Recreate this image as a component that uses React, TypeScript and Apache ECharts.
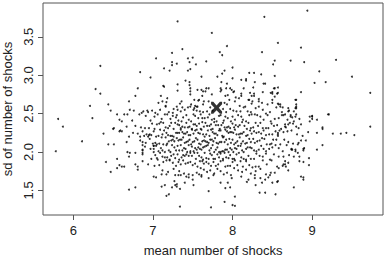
import React, { useEffect, useRef } from "react";
import * as echarts from "echarts";

const xTicks = [6, 7, 8, 9];
const yTicks = [1.5, 2.0, 2.5, 3.0, 3.5];
const xTitle = "mean number of shocks";
const yTitle = "sd of number of shocks";

const highlighted: number[][] = [[7.8, 2.575]];

const upperPoints: number[][] = [
[7.04,3.22],[6.34,3.12],[6.84,3.04],[6.97,2.97],[6.28,2.82],[6.81,2.83],[6.34,2.76],[6.78,2.73],[6.70,2.66],[6.21,2.60],[6.44,2.62],[7.07,2.64],
[7.31,3.70],[8.40,3.76],[7.74,3.55],[7.93,3.38],[7.37,3.34],[7.24,3.29],[7.84,3.30],[7.87,3.26],[8.37,3.30],[7.24,3.17],[7.24,3.13],[7.30,3.15],[7.44,3.22],[7.50,3.23],[7.46,3.17],[7.67,3.18],[7.54,3.14],[8.53,3.19],[8.51,3.14],[7.14,3.09],[7.21,3.06],[7.47,3.08],[7.44,3.06],[7.90,3.06],[7.87,3.02],[8.00,3.10],[7.81,2.98],[7.61,2.98],[7.41,2.93],[7.46,2.91],[7.46,2.87],[8.00,2.96],[8.11,2.94],[8.17,2.95],[8.17,2.93],[8.21,3.03],[8.27,3.03],[8.28,2.91],[8.36,3.01],[8.39,2.89],[8.53,2.99],[7.14,2.85],[7.31,2.88],[7.31,2.80],[7.47,2.83],[7.47,2.79],[7.47,2.75],[7.56,2.81],[7.63,2.79],[7.67,2.83],[7.92,2.83],[7.99,2.81],[8.01,2.78],[7.86,2.81],[8.11,2.76],[8.11,2.73],[8.21,2.68],[8.27,2.76],[8.27,2.73],[8.33,2.69],[8.38,2.78],[8.48,2.77],[8.53,2.72],[7.10,2.73],[7.12,2.66],[7.18,2.70],[7.36,2.66],[7.52,2.68],[7.57,2.67],[7.63,2.62],[7.48,2.62],[7.56,2.59],[7.90,2.64],[7.93,2.62],[7.96,2.68],[7.30,2.59],[7.16,2.60],[8.09,2.60],[8.16,2.59],[8.24,2.63],[8.44,2.62],[8.50,2.64],
[8.94,3.84],[8.57,3.42],[8.86,3.36],[8.73,3.19],[8.90,3.17],[9.30,3.20],[9.09,3.05],[9.50,2.98],[9.03,2.90],[9.17,2.91],[8.53,2.83],[8.57,2.84],[8.50,2.78],[8.57,2.77],[8.86,2.78],[9.73,2.77],[8.80,2.68],[8.57,2.63],[8.60,2.62],[8.60,2.59],[8.80,2.59],
[7.86,2.91],[7.93,2.89],[7.97,2.83],[8.02,2.79],[8.14,2.83],[8.26,2.84],[8.41,2.89],[8.52,2.83],[8.50,2.76],[8.56,2.76],[8.79,2.68],[8.58,2.62],[8.70,2.57],[8.79,2.57],[8.79,2.46],[9.00,2.47],[9.00,2.43],[9.20,2.49],[9.13,2.32],[8.22,2.77],[8.24,2.73],[8.20,2.68],[8.25,2.66],[8.33,2.66],[8.37,2.64],[8.50,2.68],[8.04,2.71],[8.08,2.70],[8.03,2.66],[7.91,2.73],[7.94,2.74],[7.85,2.79],[7.85,2.83],
[7.13,2.86],[6.71,2.55],[6.76,2.54],[6.88,2.53],[6.94,2.52],[6.99,2.54],[7.17,2.65],[7.34,2.63],[7.37,2.58],[7.25,2.51],[7.30,2.48],[7.53,2.60],[7.51,2.55],[7.55,2.54],[7.61,2.81],[7.66,2.79],[7.62,2.73],[7.58,2.68],[7.64,2.66],[7.70,2.83],[7.74,2.75],[7.70,2.66]
];

const leftWing: number[][] = [
[5.81,2.43],[5.87,2.33],[6.24,2.44],[6.11,2.14],[5.78,2.01],[6.38,2.24],[6.55,2.49],[6.64,2.49],[6.68,2.49],[6.47,2.54],[6.58,2.42],[6.61,2.40],[6.51,2.31],[6.58,2.27],[6.61,2.27],[6.67,2.33],[6.70,2.20],[6.75,2.25],[6.44,2.10],[6.51,2.10],[6.67,2.13],[6.55,1.91],[6.41,1.87],[6.58,1.83],[6.61,1.81],[6.64,1.81],[6.55,1.79],[6.47,1.74],[6.68,2.00],[6.71,1.99],[6.78,1.99],[6.70,1.94],[6.78,1.84],[6.81,1.81],[6.81,1.77],[6.70,1.51],[6.78,1.54],[6.87,2.03],[6.87,1.99],[6.87,1.88],[6.94,1.84],[7.01,1.68],[7.04,1.67],[7.01,2.08],[7.01,2.04],[7.01,2.00],[7.05,1.92],[6.84,2.20],[6.87,2.27],[6.95,2.22],[6.50,2.30],[6.59,2.28],[6.87,2.13],[6.87,2.09],[6.87,2.02],[6.87,1.97],[6.92,2.23],[6.96,2.23]
];

const rightWing: number[][] = [
[9.73,2.33],[9.53,2.22],[9.43,2.25],[9.36,2.24],[9.26,2.24],[9.13,2.30],[9.21,2.49],[9.06,2.25],[9.06,2.42],[8.97,2.46],[8.97,2.40],[9.00,2.46],[9.13,2.09],[9.06,2.03],[8.89,2.04],[8.89,2.02],[8.96,1.92],[8.96,1.83],[8.89,1.87],[8.84,1.88],[8.86,1.68],[8.89,1.67],[8.89,1.64],[8.77,1.54],[8.57,1.62],[8.50,1.60],[8.70,1.76],[8.66,1.88],[8.66,1.84],[8.79,2.03],[8.82,1.99],[8.83,2.12],[8.77,1.94],[8.74,2.03],[8.86,2.36],[8.80,2.33],[8.83,2.31],[8.77,2.40],[8.76,2.37],[8.80,2.62],[8.80,2.57],[8.80,2.49],[8.77,2.53],[8.70,2.53],[8.66,2.49],[8.62,2.52],[8.62,2.48],[8.73,2.48],[8.73,2.46],[8.70,2.36],[8.66,2.36],[8.66,2.33],[8.57,2.25],[8.57,2.23],[8.57,2.21],[8.64,1.84],[8.67,1.81],[8.70,1.86],[8.84,1.94],[8.75,2.03],[8.82,2.10]
];

const lowPoints: number[][] = [
[7.11,1.55],[7.15,1.57],[7.24,1.54],[7.30,1.58],[7.30,1.55],[7.27,1.62],[7.40,1.60],[7.51,1.57],[7.11,1.71],[7.17,1.71],[7.28,1.70],[7.32,1.70],[7.35,1.70],[7.42,1.68],[7.45,1.67],[7.58,1.71],[7.61,1.68],[7.70,1.66],[7.76,1.70],[7.94,1.60],[7.97,1.54],[8.20,1.64],[8.18,1.61],[8.35,1.66],[8.41,1.64],[8.45,1.67],[8.56,1.61],[8.53,1.73],[8.47,1.70],[8.28,1.70],[8.28,1.66],[7.17,1.43],[7.20,1.45],[7.34,1.29],[7.73,1.28],[7.90,1.35],[8.00,1.31],[8.03,1.30],[8.03,1.42],[7.70,1.49],[8.34,1.47],[8.54,1.45],[7.91,1.53],[7.28,1.57],[7.34,1.52],[7.50,1.64],[7.85,1.60],[7.99,1.66],[8.11,1.68],[8.29,1.57],[8.37,1.60],[8.41,1.47],[7.61,1.70]
];

const coreHigh: number[][] = [
[6.86,2.51],[6.93,2.54],[7.03,2.51],[7.09,2.55],[7.16,2.59],[7.20,2.52],[7.26,2.56],[7.31,2.55],[7.35,2.53],[7.40,2.55],[7.44,2.58],[7.47,2.59],[7.52,2.57],[7.55,2.59],[7.59,2.53],[7.63,2.52],[7.68,2.53],[7.72,2.58],[7.75,2.54],[7.88,2.56],[7.92,2.52],[7.97,2.56],[8.01,2.54],[8.05,2.53],[8.10,2.53],[8.14,2.58],[8.19,2.53],[8.23,2.52],[8.29,2.57],[8.33,2.59],[8.38,2.55],[8.42,2.50],[8.47,2.52],[8.55,2.58],[8.63,2.58],[8.71,2.54],
[6.74,2.41],[6.83,2.49],[6.91,2.47],[6.97,2.41],[7.02,2.46],[7.06,2.49],[7.11,2.43],[7.15,2.49],[7.18,2.49],[7.22,2.43],[7.25,2.47],[7.29,2.45],[7.32,2.41],[7.36,2.40],[7.38,2.45],[7.42,2.48],[7.45,2.42],[7.48,2.40],[7.51,2.49],[7.53,2.47],[7.57,2.44],[7.60,2.49],[7.62,2.44],[7.65,2.44],[7.69,2.45],[7.71,2.49],[7.74,2.42],[7.77,2.43],[7.80,2.40],[7.83,2.47],[7.85,2.48],[7.89,2.41],[7.91,2.46],[7.94,2.44],[7.98,2.40],[8.00,2.46],[8.03,2.42],[8.07,2.48],[8.11,2.46],[8.13,2.42],[8.17,2.40],[8.21,2.48],[8.24,2.49],[8.28,2.49],[8.31,2.48],[8.35,2.46],[8.39,2.42],[8.44,2.48],[8.48,2.40],[8.53,2.43],[8.58,2.44],[8.64,2.48],[8.69,2.42],[8.75,2.45],[8.84,2.43],
[6.78,2.34],[6.85,2.32],[6.90,2.31],[6.95,2.31],[6.99,2.37],[7.02,2.30],[7.05,2.36],[7.08,2.37],[7.10,2.39],[7.13,2.38],[7.16,2.32],[7.19,2.31],[7.21,2.34],[7.23,2.38],[7.26,2.30],[7.28,2.38],[7.31,2.36],[7.33,2.35],[7.35,2.31],[7.37,2.33],[7.40,2.32],[7.42,2.38],[7.44,2.32],[7.46,2.33],[7.49,2.30],[7.51,2.36],[7.53,2.36],[7.55,2.34],[7.58,2.37],[7.60,2.30],[7.62,2.39],[7.64,2.33],[7.66,2.38],[7.68,2.34],[7.71,2.34],[7.73,2.36],[7.75,2.30],[7.77,2.39],[7.79,2.35],[7.82,2.35],[7.84,2.30],[7.86,2.35],[7.88,2.38],[7.90,2.32],[7.93,2.32],[7.95,2.33],[7.97,2.31],[8.00,2.37],[8.02,2.32],[8.04,2.35],[8.07,2.33],[8.09,2.35],[8.12,2.39],[8.15,2.34],[8.18,2.30],[8.20,2.38],[8.23,2.31],[8.26,2.32],[8.29,2.38],[8.32,2.34],[8.35,2.38],[8.38,2.31],[8.42,2.31],[8.45,2.31],[8.49,2.37],[8.52,2.34],[8.56,2.35],[8.61,2.30],[8.67,2.32],[8.72,2.38]
];

const coreMid: number[][] = [
[6.81,2.24],[6.89,2.21],[6.94,2.20],[6.98,2.22],[7.01,2.27],[7.04,2.20],[7.07,2.21],[7.09,2.29],[7.12,2.23],[7.14,2.28],[7.17,2.25],[7.19,2.22],[7.22,2.21],[7.24,2.21],[7.26,2.20],[7.29,2.25],[7.31,2.25],[7.33,2.25],[7.35,2.29],[7.37,2.26],[7.39,2.24],[7.41,2.24],[7.43,2.26],[7.45,2.22],[7.47,2.22],[7.49,2.29],[7.51,2.24],[7.53,2.28],[7.55,2.29],[7.57,2.25],[7.59,2.24],[7.61,2.29],[7.63,2.23],[7.65,2.20],[7.67,2.23],[7.69,2.28],[7.71,2.21],[7.73,2.29],[7.75,2.26],[7.77,2.24],[7.79,2.24],[7.81,2.22],[7.83,2.28],[7.85,2.28],[7.87,2.21],[7.89,2.20],[7.91,2.29],[7.93,2.27],[7.95,2.25],[7.97,2.26],[7.99,2.26],[8.01,2.25],[8.03,2.29],[8.05,2.23],[8.08,2.23],[8.10,2.24],[8.12,2.24],[8.14,2.26],[8.17,2.21],[8.19,2.22],[8.22,2.28],[8.24,2.24],[8.27,2.27],[8.30,2.25],[8.33,2.26],[8.36,2.24],[8.39,2.28],[8.42,2.22],[8.46,2.23],[8.50,2.23],[8.54,2.27],[8.59,2.28],[8.64,2.26],[8.69,2.27],[8.74,2.28],[8.81,2.23],[8.88,2.21],[8.95,2.26],
[6.84,2.15],[6.91,2.12],[6.96,2.17],[7.00,2.11],[7.03,2.12],[7.05,2.10],[7.08,2.11],[7.11,2.19],[7.13,2.10],[7.16,2.19],[7.18,2.11],[7.20,2.14],[7.23,2.15],[7.25,2.16],[7.27,2.14],[7.30,2.18],[7.32,2.15],[7.34,2.16],[7.36,2.16],[7.38,2.19],[7.40,2.12],[7.42,2.13],[7.44,2.14],[7.46,2.16],[7.48,2.10],[7.50,2.13],[7.52,2.14],[7.54,2.18],[7.56,2.16],[7.58,2.11],[7.60,2.10],[7.62,2.14],[7.64,2.15],[7.66,2.14],[7.68,2.13],[7.70,2.12],[7.72,2.16],[7.74,2.16],[7.76,2.14],[7.78,2.18],[7.80,2.12],[7.82,2.11],[7.84,2.13],[7.86,2.13],[7.88,2.19],[7.90,2.13],[7.92,2.16],[7.94,2.10],[7.96,2.17],[7.98,2.12],[8.00,2.16],[8.02,2.10],[8.04,2.12],[8.06,2.14],[8.09,2.19],[8.11,2.11],[8.13,2.14],[8.16,2.11],[8.18,2.12],[8.21,2.17],[8.23,2.13],[8.26,2.17],[8.28,2.12],[8.31,2.14],[8.34,2.15],[8.37,2.18],[8.40,2.17],[8.43,2.10],[8.47,2.10],[8.51,2.16],[8.55,2.16],[8.60,2.10],[8.65,2.16],[8.70,2.13],[8.76,2.11],[8.86,2.15],[8.92,2.15],[8.49,2.11]
];

const coreLow: number[][] = [
[6.90,2.07],[6.97,2.04],[7.01,2.08],[7.04,2.08],[7.07,2.01],[7.10,2.05],[7.12,2.02],[7.15,2.00],[7.17,2.09],[7.20,2.02],[7.22,2.00],[7.24,2.09],[7.27,2.06],[7.29,2.02],[7.31,2.08],[7.33,2.02],[7.35,2.09],[7.37,2.02],[7.39,2.05],[7.41,2.04],[7.43,2.00],[7.45,2.09],[7.47,2.01],[7.49,2.07],[7.51,2.01],[7.53,2.05],[7.55,2.03],[7.57,2.06],[7.59,2.04],[7.61,2.03],[7.63,2.06],[7.65,2.07],[7.67,2.08],[7.69,2.09],[7.71,2.02],[7.73,2.05],[7.75,2.09],[7.77,2.00],[7.79,2.03],[7.81,2.06],[7.83,2.00],[7.85,2.00],[7.87,2.01],[7.89,2.01],[7.91,2.03],[7.93,2.03],[7.95,2.00],[7.97,2.05],[7.99,2.03],[8.01,2.00],[8.03,2.05],[8.05,2.04],[8.07,2.08],[8.10,2.08],[8.12,2.02],[8.14,2.00],[8.17,2.04],[8.19,2.06],[8.22,2.06],[8.24,2.05],[8.27,2.02],[8.30,2.01],[8.33,2.03],[8.36,2.08],[8.39,2.04],[8.42,2.01],[8.46,2.04],[8.50,2.06],[8.54,2.09],[8.58,2.05],[8.63,2.01],[8.68,2.09],[8.74,2.04],[8.79,2.01],[8.90,2.05],
[6.98,1.91],[7.03,1.96],[7.06,1.90],[7.09,1.99],[7.12,1.94],[7.15,1.93],[7.18,1.93],[7.21,1.90],[7.23,1.95],[7.26,1.97],[7.28,1.92],[7.31,1.97],[7.33,1.90],[7.36,1.93],[7.38,1.96],[7.40,1.95],[7.42,1.97],[7.45,1.95],[7.47,1.99],[7.49,1.95],[7.52,1.99],[7.54,1.91],[7.56,1.99],[7.58,1.95],[7.61,1.93],[7.63,1.90],[7.65,1.99],[7.67,1.92],[7.70,1.91],[7.72,1.98],[7.74,1.96],[7.76,1.91],[7.78,1.91],[7.81,1.97],[7.83,1.93],[7.85,1.98],[7.88,1.91],[7.90,1.99],[7.92,1.93],[7.95,1.92],[7.97,1.96],[8.00,1.91],[8.02,1.91],[8.05,1.97],[8.08,1.99],[8.11,1.93],[8.14,1.91],[8.17,1.90],[8.20,1.95],[8.23,1.91],[8.27,1.91],[8.30,1.98],[8.34,1.95],[8.38,1.94],[8.42,1.98],[8.47,1.90],[8.52,1.97],[8.58,1.94],[8.64,1.94],[8.71,1.96],
[7.02,1.82],[7.08,1.83],[7.13,1.87],[7.17,1.89],[7.21,1.89],[7.25,1.86],[7.29,1.82],[7.32,1.87],[7.35,1.84],[7.38,1.89],[7.41,1.85],[7.44,1.86],[7.47,1.87],[7.50,1.83],[7.53,1.85],[7.56,1.81],[7.59,1.88],[7.62,1.88],[7.64,1.85],[7.67,1.87],[7.70,1.85],[7.73,1.82],[7.76,1.87],[7.79,1.82],[7.82,1.84],[7.85,1.88],[7.88,1.89],[7.91,1.81],[7.94,1.82],[7.97,1.82],[8.00,1.87],[8.03,1.89],[8.06,1.83],[8.10,1.88],[8.13,1.81],[8.17,1.88],[8.21,1.83],[8.25,1.80],[8.29,1.81],[8.33,1.81],[8.38,1.89],[8.43,1.84],[8.49,1.89],[8.56,1.81],[8.63,1.82],
[7.12,1.76],[7.19,1.74],[7.26,1.78],[7.33,1.75],[7.39,1.72],[7.45,1.71],[7.50,1.70],[7.55,1.73],[7.60,1.79],[7.64,1.77],[7.68,1.74],[7.72,1.76],[7.77,1.72],[7.81,1.78],[7.85,1.75],[7.89,1.71],[7.93,1.73],[7.98,1.70],[8.02,1.79],[8.07,1.76],[8.12,1.74],[8.17,1.77],[8.23,1.72],[8.29,1.75],[8.35,1.78],[8.42,1.71],[8.48,1.73],[8.58,1.79]
];

const allPoints = [...upperPoints, ...leftWing, ...rightWing, ...lowPoints, ...coreHigh, ...coreMid, ...coreLow];

const FONT = "'Liberation Sans', Arial, sans-serif";
const X_SYMBOL = "path://M0 0 L4 0 L10 6 L16 0 L20 0 L20 4 L14 10 L20 16 L20 20 L16 20 L10 14 L4 20 L0 20 L0 16 L6 10 L0 4 Z";

export default function App() {
  const ref = useRef<HTMLDivElement>(null);
  useEffect(() => {
    if (!ref.current) return;
    const chart = echarts.init(ref.current, null, { renderer: "svg" });
    chart.setOption({
      animation: false,
      backgroundColor: "#ffffff",
      grid: { left: 43, right: 4, top: 3, bottom: 43, show: true, borderColor: "#555", borderWidth: 1, containLabel: false, outerBoundsMode: "none" },
      xAxis: {
        type: "value", min: 5.62, max: 9.89,
        axisLine: { show: false }, splitLine: { show: false },
        axisTick: { show: true, customValues: xTicks, length: 5, lineStyle: { color: "#555" } },
        axisLabel: { customValues: xTicks, margin: 9, fontSize: 13, color: "#222", fontFamily: FONT, formatter: (v: number) => String(v) },
        name: xTitle, nameLocation: "middle", nameGap: 29,
        nameTextStyle: { fontSize: 13, color: "#222", fontFamily: FONT },
      },
      yAxis: {
        type: "value", min: 1.18, max: 3.94,
        axisLine: { show: false }, splitLine: { show: false },
        axisTick: { show: true, customValues: yTicks, length: 5, lineStyle: { color: "#555" } },
        axisLabel: { customValues: yTicks, margin: 8, rotate: 90, fontSize: 13, color: "#222", fontFamily: FONT, formatter: (v: number) => v.toFixed(1) },
        name: yTitle, nameLocation: "middle", nameGap: 22, nameRotate: 90,
        nameTextStyle: { fontSize: 13, color: "#222", fontFamily: FONT },
      },
      series: [
        { type: "scatter", data: allPoints, symbol: "circle", symbolSize: 2, itemStyle: { color: "#000" }, silent: true },
        { type: "scatter", data: highlighted, symbol: X_SYMBOL, symbolSize: [11, 12], itemStyle: { color: "#000" }, silent: true, z: 3 },
      ],
    });
    return () => chart.dispose();
  }, []);
  return <div ref={ref} style={{ position: "fixed", left: 0, top: 0, width: 387, height: 258 }} />;
}
